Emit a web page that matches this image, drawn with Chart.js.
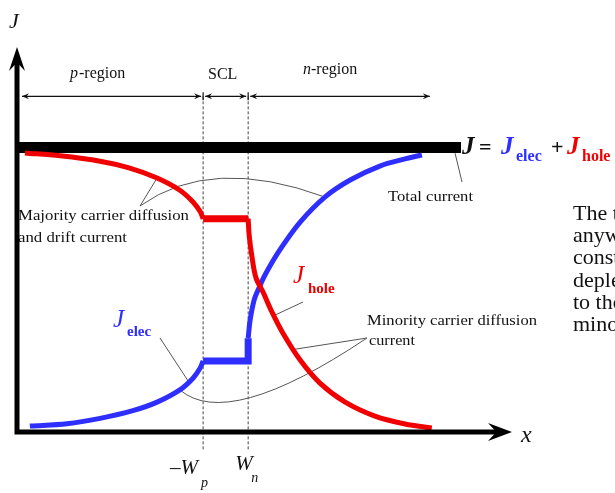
<!DOCTYPE html>
<html>
<head>
<meta charset="utf-8">
<script src="https://cdn.jsdelivr.net/npm/chart.js@4.4.1/dist/chart.umd.min.js"></script>
<style>
  html, body { margin: 0; padding: 0; background: #fff; }
  canvas { display: block; }
</style>
</head>
<body>
<canvas id="junctionChart" width="615" height="493"></canvas>
<script>
// Position along the device (arbitrary length units) and edges of the SCL
const xWp = 3.76;
const xWn = 4.67;
const xMax = 10;
const yMax = 1.35;

// Total current J = J_elec + J_hole (normalised to 1)
const totalX = [0, 8.97];
const totalY = [1.0, 1.0];

// Hole current: p-region, inside SCL, n-region
const holePX = [0.16, 0.87, 1.68, 2.28, 2.83, 3.29, 3.56, 3.70, xWp];
const holePY = [0.981, 0.971, 0.952, 0.928, 0.893, 0.850, 0.808, 0.775, 0.750];
const holeSclX = [xWp, xWn];
const holeSclY = [0.750, 0.750];
const holeNX = [xWn, 4.69, 4.75, 4.83, 4.97, 5.15, 5.37, 5.72, 6.12, 6.63, 7.23, 7.84, 8.38];
const holeNY = [0.750, 0.692, 0.612, 0.541, 0.492, 0.422, 0.348, 0.253, 0.172, 0.105, 0.056, 0.028, 0.014];

// Electron current: p-region, inside SCL, n-region
const elecPX = [0.26, 1.01, 1.68, 2.34, 2.83, 3.29, 3.56, 3.70, xWp];
const elecPY = [0.021, 0.029, 0.048, 0.075, 0.105, 0.148, 0.190, 0.225, 0.250];
const elecSclX = [xWp, xWn, xWn];
const elecSclY = [0.250, 0.250, 0.330];
const elecNX = [xWn, 4.71, 4.79, 4.87, 5.01, 5.31, 5.72, 6.22, 6.73, 7.33, 7.84, 8.18];
const elecNY = [0.330, 0.394, 0.464, 0.499, 0.552, 0.640, 0.738, 0.826, 0.886, 0.935, 0.960, 0.974];

// Region markers above the curves
const regionY = 1.18;
const regionEdges = [0.06, xWp, xWn, 8.38];

const RED = '#f00000';
const BLUE = '#2e2eff';
const SERIF = '"Liberation Serif", "Times New Roman", serif';

function series(xs, ys, color, width, smooth) {
  return {
    data: xs.map((x, i) => ({ x: x, y: ys[i] })),
    borderColor: color,
    borderWidth: width,
    pointRadius: 0,
    fill: false,
    clip: false,
    borderCapStyle: 'butt',
    borderJoinStyle: 'miter',
    tension: smooth ? 0.35 : 0
  };
}

function arrowHead(ctx, x, y, dir, len, half) {
  // dir: unit vector of the arrow direction
  const nx = -dir[1], ny = dir[0];
  ctx.beginPath();
  ctx.moveTo(x, y);
  ctx.lineTo(x - dir[0] * len + nx * half, y - dir[1] * len + ny * half);
  ctx.lineTo(x - dir[0] * len * 0.65, y - dir[1] * len * 0.65);
  ctx.lineTo(x - dir[0] * len - nx * half, y - dir[1] * len - ny * half);
  ctx.closePath();
  ctx.fill();
}

function text(ctx, str, x, y, font, color, width) {
  ctx.save();
  ctx.font = font;
  ctx.fillStyle = color || '#111';
  ctx.textBaseline = 'alphabetic';
  ctx.translate(x, y);
  if (width) {
    const w = ctx.measureText(str).width;
    ctx.scale(width / w, 1);
  }
  ctx.fillText(str, 0, 0);
  ctx.restore();
}

const diagram = {
  id: 'diagram',
  beforeDatasetsDraw(chart) {
    const ctx = chart.ctx;
    const xs = chart.scales.x, ys = chart.scales.y;
    const X = v => xs.getPixelForValue(v);
    const Y = v => ys.getPixelForValue(v);

    ctx.save();
    // dashed SCL boundaries
    ctx.strokeStyle = '#444';
    ctx.lineWidth = 1;
    ctx.setLineDash([3, 2]);
    [xWp, xWn].forEach(v => {
      ctx.beginPath();
      ctx.moveTo(X(v), Y(regionY));
      ctx.lineTo(X(v), Y(-0.065));
      ctx.stroke();
    });
    ctx.setLineDash([]);

    // region dimension arrows
    ctx.strokeStyle = '#111';
    ctx.fillStyle = '#111';
    ctx.lineWidth = 1.2;
    const ry = Y(regionY);
    for (let i = 0; i < regionEdges.length - 1; i++) {
      const a = X(regionEdges[i]) + 2, b = X(regionEdges[i + 1]) - 2;
      ctx.beginPath();
      ctx.moveTo(a, ry);
      ctx.lineTo(b, ry);
      ctx.stroke();
      arrowHead(ctx, a, ry, [-1, 0], 7, 3);
      arrowHead(ctx, b, ry, [1, 0], 7, 3);
    }
    [xWp, xWn].forEach(v => {
      ctx.beginPath();
      ctx.moveTo(X(v), ry - 4);
      ctx.lineTo(X(v), ry + 4);
      ctx.stroke();
    });

    // leader lines from the annotations to the curves
    ctx.strokeStyle = '#555';
    ctx.lineWidth = 1;
    const seg = (x0, y0, x1, y1) => {
      ctx.beginPath(); ctx.moveTo(x0, y0); ctx.lineTo(x1, y1); ctx.stroke();
    };
    const arc = (x0, y0, cx, cy, x1, y1) => {
      ctx.beginPath(); ctx.moveTo(x0, y0); ctx.quadraticCurveTo(cx, cy, x1, y1); ctx.stroke();
    };
    // majority carriers: hole current in p, electron current in n
    seg(140, 206, X(2.83), Y(0.893));
    arc(140, 206, 211, 155, X(6.22), Y(0.826));
    // minority carriers: hole current in n, electron current in p
    seg(367, 338, X(5.58), Y(0.29));
    arc(367, 338, 228, 431, X(3.29), Y(0.148));
    // curve labels
    seg(160, 338, X(3.47), Y(0.176));
    seg(303, 302, X(5.2), Y(0.41));
    // total current
    seg(X(8.85), Y(0.98), 462, 182);
    ctx.restore();
  },
  afterDatasetsDraw(chart) {
    const ctx = chart.ctx;
    const xs = chart.scales.x, ys = chart.scales.y;
    const X = v => xs.getPixelForValue(v);
    const Y = v => ys.getPixelForValue(v);

    ctx.save();
    // axes with arrows
    ctx.strokeStyle = '#000';
    ctx.fillStyle = '#000';
    ctx.lineWidth = 5;
    ctx.beginPath();
    ctx.moveTo(X(0), Y(0) + 2.5);
    ctx.lineTo(X(0), Y(yMax) + 12);
    ctx.moveTo(X(0) - 2.5, Y(0));
    ctx.lineTo(X(xMax) - 12, Y(0));
    ctx.stroke();
    arrowHead(ctx, X(0), Y(yMax) - 1, [0, -1], 24, 8);
    arrowHead(ctx, X(xMax), Y(0), [1, 0], 24, 9);

    // axis titles
    text(ctx, 'J', 9, 28, 'italic 22px ' + SERIF, '#111');
    text(ctx, 'x', 521, 442, 'italic 24px ' + SERIF, '#111');

    // SCL edge labels
    text(ctx, '\u2013W', X(xWp) - 33, 474, 'italic 21px ' + SERIF, '#111');
    text(ctx, 'p', X(xWp) - 2, 487, 'italic 14px ' + SERIF, '#111');
    text(ctx, 'W', X(xWn) - 13, 470, 'italic 21px ' + SERIF, '#111');
    text(ctx, 'n', X(xWn) + 3, 482, 'italic 14px ' + SERIF, '#111');

    // region names
    text(ctx, 'p', 70, 78, 'italic 16px ' + SERIF, '#111');
    text(ctx, '-region', 79, 78, '16px ' + SERIF, '#111');
    text(ctx, 'SCL', 208, 79, '16px ' + SERIF, '#111');
    text(ctx, 'n', 303, 74, 'italic 16px ' + SERIF, '#111');
    text(ctx, '-region', 311, 74, '16px ' + SERIF, '#111');

    // annotations
    text(ctx, 'Majority carrier diffusion', 18, 220, '15px ' + SERIF, '#111', 171);
    text(ctx, 'and drift current', 18, 242, '15px ' + SERIF, '#111', 109);
    text(ctx, 'Total current', 388, 201, '14px ' + SERIF, '#111', 85);
    text(ctx, 'Minority carrier diffusion', 367, 325, '15px ' + SERIF, '#111', 170);
    text(ctx, 'current', 369, 345, '15px ' + SERIF, '#111', 46);

    // curve labels
    text(ctx, 'J', 113, 327, 'italic 25px ' + SERIF, BLUE);
    text(ctx, 'elec', 127, 336, 'bold 15px ' + SERIF, BLUE);
    text(ctx, 'J', 293, 283, 'italic 25px ' + SERIF, RED);
    text(ctx, 'hole', 308, 293, 'bold 15px ' + SERIF, RED);

    // sum relation next to the total current
    text(ctx, 'J', 462, 154, 'italic bold 25px ' + SERIF, '#111');
    text(ctx, '=', 479, 154, 'bold 22px ' + SERIF, '#111');
    text(ctx, 'J', 501, 154, 'italic bold 25px ' + SERIF, BLUE);
    text(ctx, 'elec', 516, 161, 'bold 16px ' + SERIF, BLUE);
    text(ctx, '+', 551, 154, 'bold 22px ' + SERIF, '#111');
    text(ctx, 'J', 567, 154, 'italic bold 25px ' + SERIF, RED);
    text(ctx, 'hole', 582, 161, 'bold 16px ' + SERIF, RED);

    // side paragraph
    const para = ['The total current', 'anywhere in the device is', 'constant. Just outside the',
      'depletion region it is due', 'to the diffusion of', 'minority carriers.'];
    para.forEach((line, i) => text(ctx, line, 573, 220 + i * 22.2, '22px ' + SERIF, '#111'));
    ctx.restore();
  }
};

new Chart(document.getElementById('junctionChart'), {
  type: 'line',
  data: {
    datasets: [
      series(holePX, holePY, RED, 5, true),
      series(holeSclX, holeSclY, RED, 7, false),
      series(holeNX, holeNY, RED, 5, true),
      series(elecPX, elecPY, BLUE, 5, true),
      series(elecSclX, elecSclY, BLUE, 7, false),
      series(elecNX, elecNY, BLUE, 5, true),
      series(totalX, totalY, '#000', 11, false)
    ]
  },
  options: {
    responsive: false,
    animation: false,
    devicePixelRatio: 1,
    layout: { padding: { left: 17, right: 103, top: 48, bottom: 61 } },
    plugins: { legend: { display: false }, tooltip: { enabled: false } },
    scales: {
      x: { type: 'linear', min: 0, max: xMax, display: false },
      y: { type: 'linear', min: 0, max: yMax, display: false }
    }
  },
  plugins: [diagram]
});
</script>
</body>
</html>
